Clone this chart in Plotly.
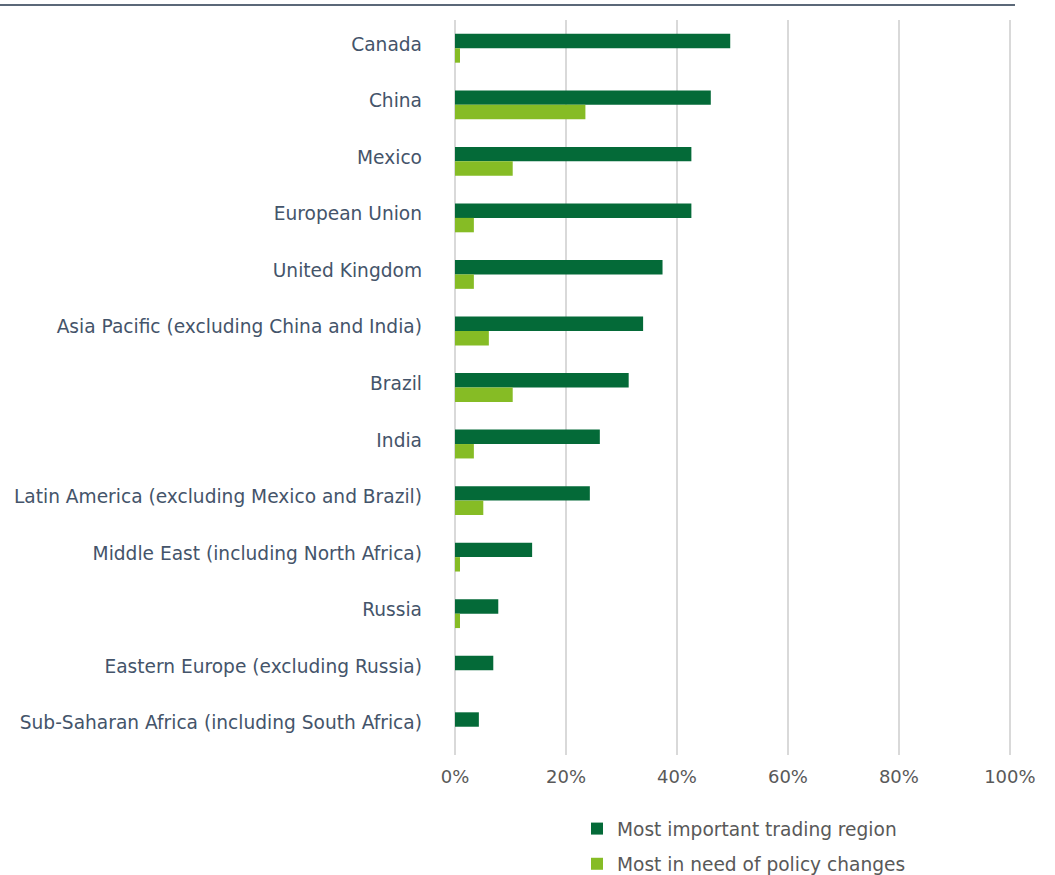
import plotly.graph_objects as go

regions = [
    "Canada",
    "China",
    "Mexico",
    "European Union",
    "United Kingdom",
    "Asia Pacific (excluding China and India)",
    "Brazil",
    "India",
    "Latin America (excluding Mexico and Brazil)",
    "Middle East (including North Africa)",
    "Russia",
    "Eastern Europe (excluding Russia)",
    "Sub-Saharan Africa (including South Africa)",
]
most_important = [49.6, 46.1, 42.6, 42.6, 37.4, 33.9, 31.3, 26.1, 24.3, 13.9, 7.8, 6.9, 4.3]
policy_changes = [0.9, 23.5, 10.4, 3.4, 3.4, 6.1, 10.4, 3.4, 5.1, 0.9, 0.9, 0.0, 0.0]
x_ticks = [0, 20, 40, 60, 80, 100]
x_tick_labels = ["0%", "20%", "40%", "60%", "80%", "100%"]

DARK_GREEN = "#046a38"
LIGHT_GREEN = "#86bc25"
FONT = "DejaVu Sans, Verdana, sans-serif"

PLOT_L, PLOT_R, PLOT_T, PLOT_B = 455, 1011, 20, 755
PW, PH = PLOT_R - PLOT_L, PLOT_B - PLOT_T

fig = go.Figure()
fig.add_trace(go.Bar(
    y=regions, x=most_important, orientation="h",
    name="Most important trading region",
    marker=dict(color=DARK_GREEN, line=dict(width=0)),
    legendgroup="a",
))
fig.add_trace(go.Bar(
    y=regions, x=policy_changes, orientation="h",
    name="Most in need of policy changes",
    marker=dict(color=LIGHT_GREEN, line=dict(width=0)),
    legendgroup="b",
))

fig.update_layout(
    width=1055, height=875,
    margin=dict(l=PLOT_L, r=1055 - PLOT_R, t=PLOT_T, b=875 - PLOT_B, autoexpand=False),
    paper_bgcolor="white", plot_bgcolor="white",
    barmode="group", bargap=0.49, bargroupgap=0,
    font=dict(family=FONT, size=18, color="#595959"),
    showlegend=True,
    legend=dict(
        orientation="v",
        x=(577 - PLOT_L) / PW, y=(PLOT_B - 810) / PH,
        xanchor="left", yanchor="top",
        font=dict(family=FONT, size=18.6, color="#595959"),
        traceorder="grouped", tracegroupgap=8,
        bgcolor="rgba(0,0,0,0)",
    ),
    shapes=[dict(
        type="line", xref="paper", yref="paper",
        x0=-PLOT_L / PW, x1=(1015 - PLOT_L) / PW,
        y0=1 + 15 / PH, y1=1 + 15 / PH,
        line=dict(color="#5b6878", width=2),
    )],
)

fig.update_xaxes(
    range=[0, 100.2], tickvals=x_ticks, ticktext=x_tick_labels,
    showgrid=True, gridcolor="#d9d9d9", gridwidth=2,
    zeroline=True, zerolinecolor="#d9d9d9", zerolinewidth=2,
    showline=False, ticks="", ticklabelstandoff=9, tickangle=0,
    tickfont=dict(family=FONT, size=18, color="#595959"),
    automargin=False, fixedrange=True,
)
fig.update_yaxes(
    categoryorder="array", categoryarray=regions,
    autorange="reversed",
    showgrid=False, zeroline=False, showline=False, ticks="",
    ticklabelstandoff=32, ticklabelshift=4,
    tickfont=dict(family=FONT, size=18.6, color="#44546a"),
    automargin=False, fixedrange=True,
)

fig.write_html("out.html")
